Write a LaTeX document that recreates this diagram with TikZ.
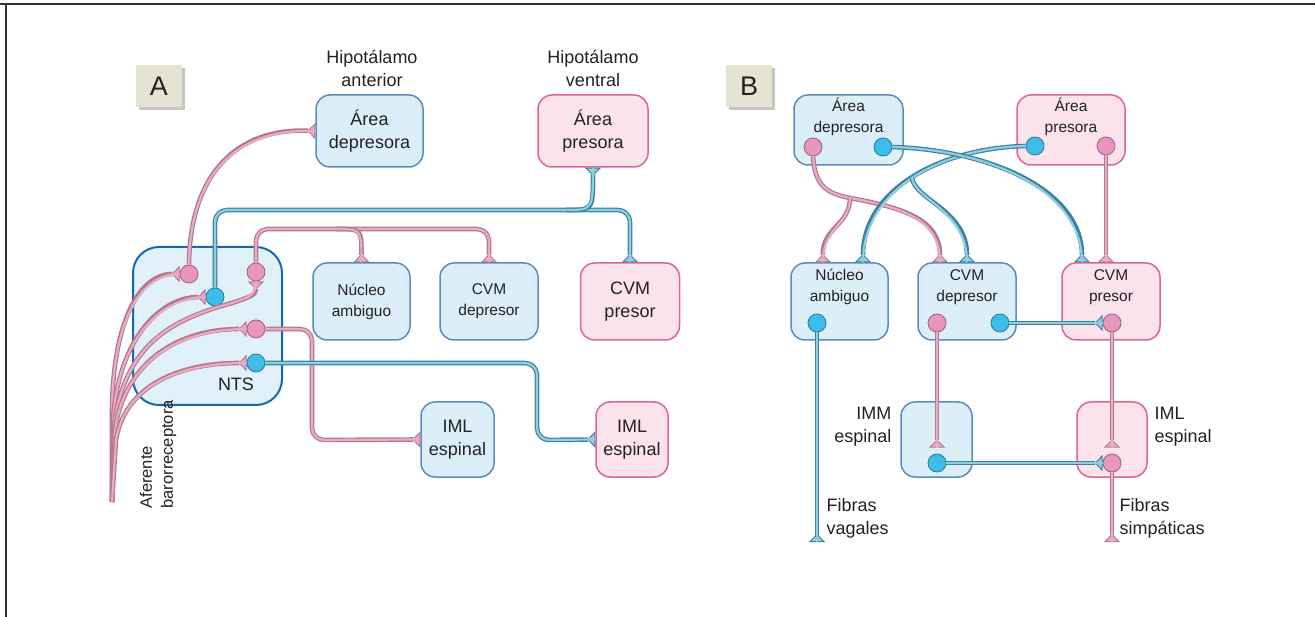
\documentclass[tikz,border=0pt]{standalone}
\usepackage{fontspec}
\setmainfont{Liberation Sans}
\usetikzlibrary{arrows.meta,calc,shadows}

\definecolor{boxblue}{HTML}{5A8CC0}
\definecolor{fillblue}{HTML}{DCEFF9}
\definecolor{boxpink}{HTML}{E06491}
\definecolor{fillpink}{HTML}{FBE3EC}
\definecolor{ntsblue}{HTML}{1868B0}
\definecolor{fibpinkdk}{HTML}{B4788F}
\definecolor{fibpink}{HTML}{E8ADC4}
\definecolor{fibbluedk}{HTML}{3C82A0}
\definecolor{fibblue}{HTML}{90CFE2}
\definecolor{cellpinkdk}{HTML}{A8657F}
\definecolor{cellpink}{HTML}{E996BE}
\definecolor{cellbluedk}{HTML}{2C80A8}
\definecolor{cellblue}{HTML}{3DBDEA}
\definecolor{tagbg}{HTML}{E5E3D2}
\definecolor{ink}{HTML}{222222}

\begin{document}
\begin{tikzpicture}[x=1pt, y=-1pt, text=ink]
  \tikzstyle{big}=[font=\fontsize{18}{23}\selectfont, align=center]
  \tikzstyle{mid}=[font=\fontsize{15.5}{21}\selectfont, align=center]
  \tikzstyle{bluebox}=[draw=boxblue, fill=fillblue, line width=1.5pt, rounded corners=14pt, inner sep=0pt]
  \tikzstyle{pinkbox}=[bluebox, draw=boxpink, fill=fillpink]
  \tikzstyle{ntsbox}=[draw=ntsblue, fill=fillblue, fill opacity=.85, line width=2pt, rounded corners=26pt, minimum width=149pt, minimum height=158pt]
  \tikzstyle{panel}=[fill=tagbg, minimum width=46pt, minimum height=42pt, font=\fontsize{27}{27}\selectfont, drop shadow={shadow xshift=3pt, shadow yshift=-3pt, opacity=.45}]
  \tikzstyle{pcell}=[circle, draw=cellpinkdk, fill=cellpink, line width=.9pt, minimum size=18pt, inner sep=0pt]
  \tikzstyle{bcell}=[pcell, draw=cellbluedk, fill=cellblue]
  \tikzstyle{pfib}=[draw=fibpinkdk, line width=4.6pt, postaction={draw=fibpink, line width=2.2pt, arrows=-}]
  \tikzstyle{bfib}=[draw=fibbluedk, line width=4.6pt, postaction={draw=fibblue, line width=2.2pt, arrows=-}]
  \tikzstyle{psyn}=[-{Triangle[reversed, length=8pt, width=16pt, line width=.9pt, fill=fibpink]}]
  \tikzstyle{bsyn}=[-{Triangle[reversed, length=8pt, width=16pt, line width=.9pt, fill=fibblue]}]

  \useasboundingbox (0,0) rectangle (1315,617);
  \draw[gray!40!black, line width=2.5pt] (0,4) -- (1315,4);
  \draw[gray!40!black, line width=2pt] (6,4) -- (6,617);

  % ---- A: barorreflex inputs to the NTS
  \node[panel] (tagA) at (159,86) {A};
  \node[big] (hipAnt) at (372,68) {Hipotálamo\\anterior};
  \node[big] (hipVen) at (593,68) {Hipotálamo\\ventral};
  \node[bluebox, big, minimum width=107pt, minimum height=72pt] (depA) at (369.5,131) {Área\\depresora};
  \node[pinkbox, big, minimum width=110pt, minimum height=72pt] (presA) at (593,131) {Área\\presora};
  \node[bluebox, mid, minimum width=97pt, minimum height=77pt] (nucA) at (361.5,301.5) {Núcleo\\ambiguo};
  \node[bluebox, mid, minimum width=98pt, minimum height=77pt] (cvmdA) at (489,301.5) {CVM\\depresor};
  \node[pinkbox, big, minimum width=99pt, minimum height=77pt] (cvmpA) at (630,301.5) {CVM\\presor};
  \node[bluebox, big, minimum width=73pt, minimum height=75pt] (imlbA) at (457.5,439.5) {IML\\espinal};
  \node[pinkbox, big, minimum width=72pt, minimum height=75pt] (imlpA) at (632,439.5) {IML\\espinal};
  \node[ntsbox] (nts) at (207.5,326) {};
  \node[big] (ntsT) at (236,384) {NTS};
  \node[rotate=90, anchor=west, align=left, font=\fontsize{16.5}{21}\selectfont] (aferT) at (158,512) {Aferente\\barorreceptora};

  \node[pcell] (pA1) at (189,274) {};
  \node[bcell] (bA1) at (215,297) {};
  \node[pcell] (pA2) at (256,272) {};
  \node[pcell] (pA3) at (256,329) {};
  \node[bcell] (bA2) at (256,363) {};

  \coordinate (aff) at (112,502);
  \coordinate (bj) at (630,210);
  \coordinate (bk) at (566,210);
  \coordinate (pj) at (489,229);
  \coordinate (pk) at (336,229);
  \coordinate (pc) at (312,440);
  \coordinate (bc) at (537,440);

  % afferent fan
  \draw[pfib, psyn] (aff) -- (112,410) .. controls (113,320) and (140,274) .. (pA1.west);
  \draw[pfib, psyn] (aff) -- (113,420) .. controls (118,340) and (160,297) .. (bA1.west);
  \draw[pfib, psyn] (aff) -- (114,425) .. controls (125,345) and (170,320) .. (232,303) .. controls (250,297) and (256,295) .. (pA2.south);
  \draw[pfib, psyn] (aff) -- (115,430) .. controls (125,360) and (180,329) .. (pA3.west);
  \draw[pfib, psyn] (aff) -- (116,440) .. controls (125,385) and (180,363) .. (bA2.west);

  % NTS outputs
  \draw[pfib, psyn] (pA1.north) .. controls (190,170) and (240,128) .. (depA.west);
  \draw[bfib, bsyn, rounded corners=12pt] (bA1.north) |- (bj) -- (cvmpA.north);
  \draw[bfib, bsyn] (bk) .. controls (593,210) .. (presA.south);
  \draw[pfib, psyn, rounded corners=12pt] (pA2.north) |- (pj) -- (cvmdA.north);
  \draw[pfib, psyn] (pk) .. controls (361.5,229) .. (nucA.north);
  \draw[pfib, psyn, rounded corners=12pt] (pA3.east) -| (pc) -- (imlbA.west);
  \draw[bfib, bsyn, rounded corners=12pt] (bA2.east) -| (bc) -- (imlpA.west);

  % ---- B: descending pathways
  \node[panel] (tagB) at (749,86) {B};
  \node[bluebox, minimum width=109pt, minimum height=70pt] (depB) at (848.5,130) {};
  \node[pinkbox, minimum width=108pt, minimum height=70pt] (presB) at (1071,130) {};
  \node[bluebox, minimum width=97pt, minimum height=77pt] (nucB) at (839.5,301.5) {};
  \node[bluebox, minimum width=98pt, minimum height=77pt] (cvmdB) at (967,301.5) {};
  \node[pinkbox, minimum width=98pt, minimum height=77pt] (cvmpB) at (1111,301.5) {};
  \node[bluebox, minimum width=71pt, minimum height=75pt] (immB) at (936.5,439.5) {};
  \node[pinkbox, minimum width=70pt, minimum height=75pt] (imlB) at (1112,439.5) {};

  \node[mid] (depBT) at (848.5,117) {Área\\depresora};
  \node[mid] (presBT) at (1071,117) {Área\\presora};
  \node[mid] (nucBT) at (839.5,287) {Núcleo\\ambiguo};
  \node[mid] (cvmdBT) at (967,287) {CVM\\depresor};
  \node[mid] (cvmpBT) at (1111,287) {CVM\\presor};
  \node[big, anchor=east, align=right] (immT) at (895,427) {IMM\\espinal};
  \node[big, anchor=west, align=left] (imlT) at (1151,427) {IML\\espinal};
  \node[big, anchor=west, align=left] (vagT) at (823,518) {Fibras\\vagales};
  \node[big, anchor=west, align=left] (simT) at (1116,518) {Fibras\\simpáticas};

  \node[pcell] (pdB) at (813,147) {};
  \node[bcell] (bdB) at (883,147) {};
  \node[bcell] (bpB) at (1035,146) {};
  \node[pcell] (ppB) at (1106,146) {};
  \node[bcell] (bnB) at (817,323) {};
  \node[pcell] (pcdB) at (937,323) {};
  \node[bcell] (bcdB) at (1000,323) {};
  \node[pcell] (pcpB) at (1112,323) {};
  \node[bcell] (bimB) at (937,463) {};
  \node[pcell] (pilB) at (1112,463) {};

  \coordinate (nucP) at ($(nucB.north)+(-16.5,0)$);
  \coordinate (nucQ) at ($(nucB.north)+(23.5,0)$);
  \coordinate (cvdP) at ($(cvmdB.north)+(-27,0)$);
  \coordinate (cvdQ) at (cvmdB.north);
  \coordinate (cvpQ) at ($(cvmpB.north)+(-29,0)$);
  \coordinate (cvpP) at (ppB.south |- cvmpB.north);
  \coordinate (pfork) at (850,198);
  \coordinate (bfork) at (912,178);
  \coordinate (vag) at (817,542);
  \coordinate (sim) at (1112,542);

  % crossing projections from the hypothalamus
  \draw[pfib, psyn] (pdB.south) .. controls (815,185) and (825,193) .. (pfork) .. controls (905,208) and (940,220) .. (cvdP);
  \draw[pfib, psyn] (pfork) .. controls (850,225) and (822,228) .. (nucP);
  \draw[bfib, bsyn] (bpB.west) .. controls (940,148) and (863,190) .. (nucQ);
  \draw[bfib, bsyn] (bfork) .. controls (915,200) and (967,210) .. (cvdQ);
  \draw[bfib, bsyn] (bdB.east) .. controls (990,150) and (1082,190) .. (cvpQ);
  \draw[pfib, psyn] (ppB.south) -- (cvpP);

  % brainstem and spinal outputs
  \draw[bfib, bsyn] (bnB.south) -- (vag);
  \draw[pfib, psyn] (pcdB.south) -- ($(bimB.north)+(0,-6)$);
  \draw[bfib, bsyn] (bcdB.east) -- (pcpB.west);
  \draw[pfib, psyn] (pcpB.south) -- ($(pilB.north)+(0,-6)$);
  \draw[bfib, bsyn] (bimB.east) -- (pilB.west);
  \draw[pfib, psyn] (pilB.south) -- (sim);
\end{tikzpicture}
\end{document}
